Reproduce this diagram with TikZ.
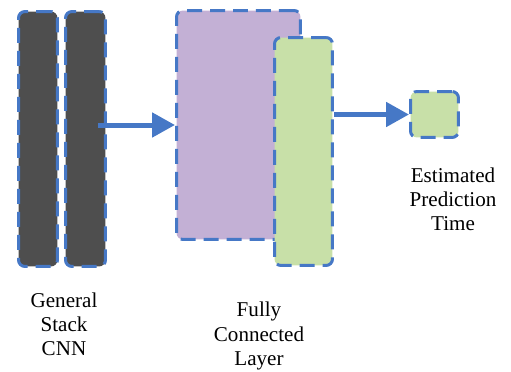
\documentclass[tikz,border=0pt]{standalone}
\usepackage{fontspec}
\setmainfont{Liberation Serif}
\usetikzlibrary{arrows.meta}
\definecolor{edgeblue}{RGB}{70,120,198}
\definecolor{cnngray}{RGB}{78,78,78}
\definecolor{fcpurple}{RGB}{195,176,213}
\definecolor{fcgreen}{RGB}{200,224,168}
\begin{document}
\begin{tikzpicture}[x=0.02cm, y=-0.02cm,
    layer/.style={draw=edgeblue, line width=0.06cm, dash pattern=on 0.3cm off 0.16cm,
        rounded corners=0.13cm, inner sep=0pt},
    flow/.style={edgeblue, line width=0.1cm, -{Triangle[width=0.48cm, length=0.46cm]}},
    caption/.style={align=center, font=\fontsize{12}{13.7}\selectfont}]
                \useasboundingbox (0,0) rectangle (511,372);
                \node[layer, fill=cnngray, minimum width=0.78cm, minimum height=5.1cm] (cnnA) at (38,139) {};
                \node[layer, fill=cnngray, minimum width=0.8cm, minimum height=5.1cm] (cnnB) at (85.5,139) {};
                \node[layer, fill=fcpurple, minimum width=2.48cm, minimum height=4.58cm] (fcA) at (238.5,125) {};
                \node[layer, fill=fcgreen, minimum width=1.16cm, minimum height=4.56cm] (fcB) at (303.5,151.5) {};
                \node[layer, fill=fcgreen, minimum width=0.96cm, minimum height=0.92cm] (out) at (434.5,114.5) {};
                \draw[flow] ([xshift=-0.18cm]cnnB.east |- fcA.west) -- (fcA.west);
                \draw[flow] (fcB.east |- out.west) -- (out.west);
                \node[caption] (lblCnn) at (64,324) {General\\Stack\\CNN};
                \node[caption] (lblFc) at (259,336) {Fully\\Connected\\Layer};
                \node[caption] (lblOut) at (453,199) {Estimated\\Prediction\\Time};
            \end{tikzpicture}
\end{document}
